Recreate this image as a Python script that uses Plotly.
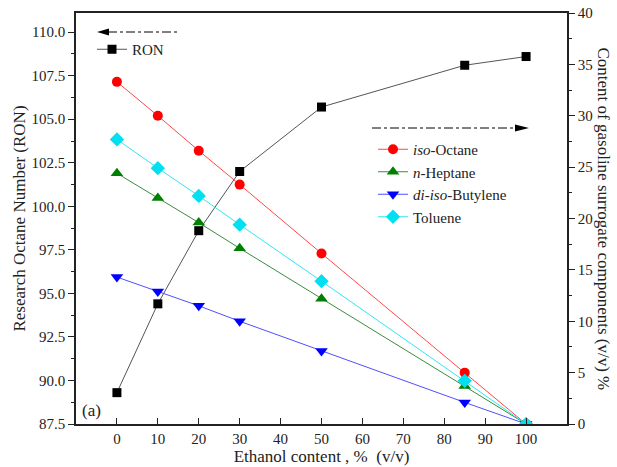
import plotly.graph_objects as go

ethanol = [0, 10, 20, 30, 50, 85, 100]
ron = [89.3, 94.4, 98.6, 102.0, 105.7, 108.1, 108.6]
iso_octane = [33.3, 30.0, 26.6, 23.3, 16.6, 5.0, 0.0]
n_heptane = [24.4, 22.0, 19.6, 17.1, 12.2, 3.7, 0.0]
di_iso_butylene = [14.3, 12.9, 11.5, 10.0, 7.1, 2.1, 0.0]
toluene = [27.7, 24.9, 22.2, 19.4, 13.9, 4.2, 0.0]

x_ticks = [0, 10, 20, 30, 40, 50, 60, 70, 80, 90, 100]
left_ticks = [87.5, 90.0, 92.5, 95.0, 97.5, 100.0, 102.5, 105.0, 107.5, 110.0]
right_ticks = [0, 5, 10, 15, 20, 25, 30, 35, 40]

FONT = "'Liberation Serif', 'Times New Roman', Times, serif"

fig = go.Figure()

comp = [
    ("<i>iso</i>-Octane", iso_octane, "#ff0000", "#ff4848", "circle", 10),
    ("<i>n</i>-Heptane", n_heptane, "#008000", "#3c8c3c", "triangle-up", 11),
    ("<i>di-iso</i>-Butylene", di_iso_butylene, "#0000ff", "#5050ff", "triangle-down", 11),
    ("Toluene", toluene, "#00e0f0", "#30e6f2", "diamond", 11),
]
for name, vals, mc, lc, sym, sz in comp:
    fig.add_trace(go.Scatter(
        x=ethanol, y=vals, name=name, yaxis="y2", mode="lines+markers",
        line=dict(color=lc, width=1),
        marker=dict(color=mc, symbol=sym, size=sz, line=dict(width=0)),
        legend="legend2",
    ))

fig.add_trace(go.Scatter(
    x=ethanol, y=ron, name="RON", mode="lines+markers",
    line=dict(color="#555555", width=1),
    marker=dict(color="#000000", symbol="square", size=9, line=dict(width=0)),
    legend="legend",
))

W, H = 617, 467
L, R, T, B = 76, 50, 13, 43
pw = W - L - R
ph = H - T - B


def px2paper(xp, yp):
    return (xp - L) / pw, (H - B - yp) / ph


shapes = []
x0, y0 = px2paper(108, 32)
x1, _ = px2paper(177, 32)
shapes.append(dict(type="line", xref="paper", yref="paper", x0=x0, x1=x1, y0=y0, y1=y0,
                   line=dict(color="black", width=1, dash="dashdot")))
tx, ty = px2paper(97, 32)
bx, by1 = px2paper(109, 28.5)
_, by2 = px2paper(109, 35.5)
shapes.append(dict(type="path", xref="paper", yref="paper",
                   path=f"M {tx} {ty} L {bx} {by1} L {bx} {by2} Z",
                   fillcolor="black", line=dict(color="black", width=0)))
x0, y0 = px2paper(372, 128)
x1, _ = px2paper(516, 128)
shapes.append(dict(type="line", xref="paper", yref="paper", x0=x0, x1=x1, y0=y0, y1=y0,
                   line=dict(color="black", width=1, dash="dashdot")))
tx, ty = px2paper(529, 128)
bx, by1 = px2paper(515, 124.5)
_, by2 = px2paper(515, 131.5)
shapes.append(dict(type="path", xref="paper", yref="paper",
                   path=f"M {tx} {ty} L {bx} {by1} L {bx} {by2} Z",
                   fillcolor="black", line=dict(color="black", width=0)))

ax_common = dict(showgrid=False, zeroline=False, showline=True, linecolor="#222222",
                 linewidth=1.5, tickcolor="#222222", automargin=False,
                 tickfont=dict(family=FONT, size=15, color="#222222"))

fig.update_layout(
    width=W, height=H,
    margin=dict(l=L, r=R, t=T, b=B, pad=0),
    paper_bgcolor="white", plot_bgcolor="white",
    font=dict(family=FONT, color="#222222"),
    xaxis=dict(range=[-10, 110], tickvals=x_ticks, ticks="inside", ticklen=6,
               mirror=True, title=dict(text="Ethanol content , %  (v/v)",
                                       font=dict(family=FONT, size=17), standoff=4),
               **ax_common),
    yaxis=dict(range=[87.5, 111.1], tickvals=left_ticks, tickformat=".1f",
               ticks="outside", ticklen=6,
               minor=dict(ticks="outside", ticklen=3, dtick=1.25, tick0=87.5,
                          tickcolor="#222222"),
               title=dict(text="Research Octane Number (RON)",
                          font=dict(family=FONT, size=17), standoff=2),
               **ax_common),
    yaxis2=dict(range=[0, 40], tickvals=right_ticks, overlaying="y", side="right",
                ticks="outside", ticklen=6,
                minor=dict(ticks="outside", ticklen=3, dtick=2.5, tick0=0,
                           tickcolor="#222222"),
                **ax_common),
    legend=dict(x=px2paper(92, 0)[0], y=px2paper(0, 33)[1], xanchor="left", yanchor="top",
                bgcolor="rgba(0,0,0,0)", font=dict(family=FONT, size=15, color="#222222"),
                itemwidth=30, tracegroupgap=0),
    legend2=dict(x=px2paper(373, 0)[0], y=px2paper(0, 133)[1], xanchor="left", yanchor="top",
                 bgcolor="rgba(0,0,0,0)", font=dict(family=FONT, size=15, color="#222222"),
                 itemwidth=30, tracegroupgap=0),
    shapes=shapes,
    annotations=[
        dict(text="Content of gasoline surrogate components (v/v) %", textangle=90,
             xref="paper", yref="paper", x=px2paper(603, 0)[0], y=0.5,
             xanchor="center", yanchor="middle", showarrow=False,
             font=dict(family=FONT, size=17, color="#222222")),
        dict(text="(a)", xref="paper", yref="paper", x=px2paper(80, 0)[0],
             y=px2paper(0, 410)[1], xanchor="left", yanchor="middle", showarrow=False,
             font=dict(family=FONT, size=17, color="#222222")),
    ],
    showlegend=True,
)

fig.write_html("out.html")
